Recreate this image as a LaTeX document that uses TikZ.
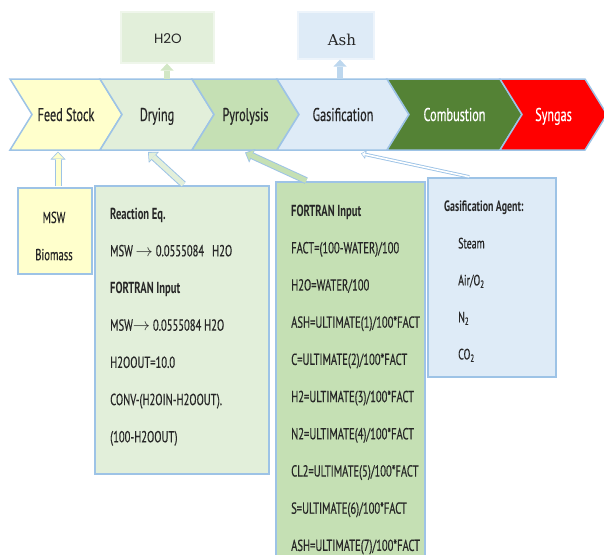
\documentclass[tikz,border=0pt]{standalone}
\usepackage{fontspec}
\setmainfont{PT Sans}
\newfontfamily\agency[FakeStretch=0.66, UprightFeatures={FakeBold=0.4}]{PT Sans}
\newfontfamily\gothic{Poppins}
\newfontfamily\slab{DejaVu Serif}
\usepackage{tikz}
\usetikzlibrary{arrows.meta}

\definecolor{edgeblue}{HTML}{9DC3E6}
\definecolor{feedfill}{HTML}{FFFFCC}
\definecolor{dryfill}{HTML}{E2EFDA}
\definecolor{pyrofill}{HTML}{C5E0B4}
\definecolor{gasfill}{HTML}{DEEBF7}
\definecolor{combfill}{HTML}{548235}
\definecolor{synfill}{HTML}{FF0000}
\definecolor{inkgray}{HTML}{262626}

\tikzset{
  chev/.style={draw=edgeblue, line width=1.5pt, line join=miter},
  stagetext/.style={font=\agency\fontsize{18.5}{20}\selectfont, text=inkgray, inner sep=0pt, anchor=base},
  prodbox/.style={anchor=north west, inner sep=0pt, line width=1.5pt},
  infobox/.style={draw=edgeblue, line width=1.5pt, anchor=north west, inner sep=0pt},
  infotext/.style={anchor=north west, align=left, inner sep=0pt, text=inkgray,
    font=\agency\fontsize{16}{37.2}\selectfont},
  bigout/.style={line width=7pt, draw=edgeblue, shorten <=0.8pt,
    -{Triangle[length=8pt,width=15pt,line width=0pt]}},
  bigin/.style={line width=5pt, shorten <=0.8pt, shorten >=1.2pt,
    -{Triangle[length=6pt,width=11.5pt,line width=0pt]}},
  thinout/.style={line width=3.4pt, draw=edgeblue, shorten <=0.8pt,
    -{Triangle[length=5pt,width=9pt,line width=0pt]}},
  thinin/.style={line width=1.6pt, draw=white, shorten <=0.8pt, shorten >=1pt,
    -{Triangle[length=3pt,width=5.5pt,line width=0pt]}},
  solidup/.style={line width=6pt, -{Triangle[length=7pt,width=13pt,line width=0pt]}},
}

% one chevron of the band: name, left x, right x, fill, text colour, label
\newcommand\stage[6]{%
  \filldraw[chev, fill=#4] (#2,\bandtop) -- (#3,\bandtop) -- ({#3+\tipw},\bandmid)
    -- (#3,\bandbot) -- (#2,\bandbot) -- ({#2+\tipw},\bandmid) -- cycle;
  \node[stagetext, text=#5] (#1) at ({(#2+#3+\tipw)/2},121) {#6};
}

\begin{document}
\begin{tikzpicture}[x=1pt, y=-1pt]
  \useasboundingbox (0,0) rectangle (604,554);

  % band
  \def\bandtop{79}
  \def\bandbot{150}
  \def\bandmid{114.5}
  \def\tipw{22}

  % stages
  \stage{feed}{10}{100}{feedfill}{inkgray}{Feed Stock}
  \stage{dry}{100}{192}{dryfill}{inkgray}{Drying}
  \stage{pyro}{192}{277}{pyrofill}{inkgray}{Pyrolysis}
  \stage{gas}{277}{387}{gasfill}{inkgray}{Gasification}
  \stage{comb}{387}{500}{combfill}{white}{Combustion}
  \stage{syn}{500}{585}{synfill}{white}{Syngas}

  % products
  \node[prodbox, fill=dryfill, draw=dryfill!55!white, minimum width=93pt, minimum height=51pt] (h2oBox) at (120,11) {};
  \node[font=\gothic\fontsize{13.5}{15}\selectfont, text=inkgray] (h2o) at (168,39) {H2O};
  \node[prodbox, fill=gasfill, draw=gasfill!55!white, minimum width=76pt, minimum height=47pt] (ashBox) at (297,11) {};
  \node[font=\slab\fontsize{15}{17}\selectfont, text=inkgray] (ash) at (342,40) {Ash};

  \coordinate (dryTop) at (167,\bandtop);
  \coordinate (gasTop) at (340,\bandtop);
  \draw[solidup, draw=pyrofill!55!dryfill] (dryTop) -- (dryTop |- h2oBox.south);
  \draw[solidup, draw=gasfill!50!edgeblue] (gasTop) -- (gasTop |- ashBox.south);

  % inputs
  \node[infobox, fill=feedfill, minimum width=74pt, minimum height=86pt] (mswBox) at (17,187) {};
  \node[infotext, anchor=center, align=center] (msw) at (54,236) {MSW\\Biomass};

  \node[infobox, fill=dryfill, minimum width=174pt, minimum height=288pt] (dryBox) at (94,185) {};
  \node[infotext] (dryText) at (110,207.5) {\textbf{Reaction Eq.}\\
    MSW $\rightarrow$ 0.0555084\enspace H2O\\
    \textbf{FORTRAN Input}\\
    MSW$\rightarrow$ 0.0555084 H2O\\
    H2OOUT=10.0\\
    CONV-(H2OIN-H2OOUT).\\
    (100-H2OOUT)};

  \node[infobox, fill=pyrofill, minimum width=149pt, minimum height=400pt] (pyroBox) at (275,181) {};
  \node[infotext] (pyroText) at (291,204.5) {\textbf{FORTRAN Input}\\
    FACT=(100-WATER)/100\\
    H2O=WATER/100\\
    ASH=ULTIMATE(1)/100*FACT\\
    C=ULTIMATE(2)/100*FACT\\
    H2=ULTIMATE(3)/100*FACT\\
    N2=ULTIMATE(4)/100*FACT\\
    CL2=ULTIMATE(5)/100*FACT\\
    S=ULTIMATE(6)/100*FACT\\
    ASH=ULTIMATE(7)/100*FACT};

  \node[infobox, fill=gasfill, minimum width=128pt, minimum height=199pt] (gasBox) at (427,177) {};
  \node[infotext, font=\agency\fontsize{15}{37}\selectfont] (gasText) at (444,200.5) {\textbf{Gasification Agent:}\\
    \hspace*{14pt}Steam\\
    \hspace*{14pt}Air/O\textsubscript{2}\\
    \hspace*{14pt}N\textsubscript{2}\\
    \hspace*{14pt}CO\textsubscript{2}};

  % feeds into the band
  \coordinate (feedIn) at (58,151.5);
  \coordinate (dryIn) at (148,152);
  \coordinate (pyroIn) at (245,152.5);
  \coordinate (gasIn) at (361,153.5);

  \draw[bigout] (mswBox.north -| feedIn) -- (feedIn);
  \draw[bigin, draw=feedfill] (mswBox.north -| feedIn) -- (feedIn);
  \draw[bigout] ([xshift=90pt]dryBox.north west) -- (dryIn);
  \draw[bigin, draw=dryfill] ([xshift=90pt]dryBox.north west) -- (dryIn);
  \draw[bigout] ([xshift=32pt]pyroBox.north west) -- (pyroIn);
  \draw[bigin, draw=pyrofill] ([xshift=32pt]pyroBox.north west) -- (pyroIn);
  \draw[thinout] ([xshift=43pt]gasBox.north west) -- (gasIn);
  \draw[thinin] ([xshift=43pt]gasBox.north west) -- (gasIn);
\end{tikzpicture}
\end{document}
